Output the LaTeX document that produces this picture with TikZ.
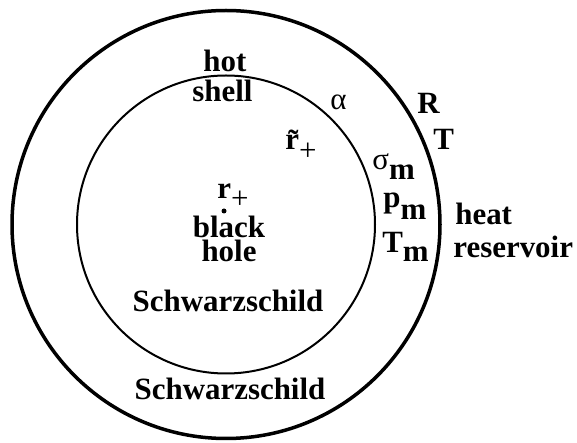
\documentclass[tikz,border=0pt]{standalone}
\usepackage{fontspec}
\setmainfont{Liberation Serif}
\usepackage{tikz}
\newcommand{\drop}[2]{\raisebox{-#1}{#2}}
\begin{document}
\begin{tikzpicture}[lbl/.style={anchor=base west,inner sep=0pt,font=\fontsize{17.6}{13.6}\selectfont\bfseries},
  ctr/.style={lbl,anchor=base}]
\useasboundingbox (0,0) rectangle (11.540,8.860);
\draw[line width=0.070cm] (4.520,4.370) circle (4.280);
\draw[line width=0.040cm] (4.520,4.370) circle (2.980);
\fill (4.480,4.640) circle (0.050);
\node[lbl] (hot) at (4.060,7.420) {hot};
\node[lbl] (shell) at (3.840,6.820) {shell};
\node[lbl] (alpha) at (6.600,6.660) {\mdseries α};
\node[lbl] (R) at (8.340,6.580) {R};
\node[lbl] (T) at (8.660,5.860) {T};
\node[lbl] (rtilde) at (5.700,5.860) {\~{r}\drop{0.220cm}{\mdseries +}};
\node[lbl] (sigma) at (7.440,5.460) {{\mdseries σ}\drop{0.200cm}{m}};
\node[lbl] (pm) at (7.660,4.700) {p\drop{0.240cm}{m}};
\node[lbl] (Tm) at (7.640,3.800) {T\drop{0.180cm}{m}};
\node[lbl] (heat) at (9.100,4.360) {heat};
\node[lbl] (reservoir) at (9.060,3.700) {reservoir};
\node[lbl] (rplus) at (4.340,4.880) {r\drop{0.200cm}{\mdseries +}};
\node[ctr,align=center,anchor=north] (hole) at (4.580,4.540) {black\\hole};
\node[ctr] (inner) at (4.560,2.620) {Schwarzschild};
\node[ctr] (outer) at (4.600,0.860) {Schwarzschild};
\end{tikzpicture}
\end{document}
